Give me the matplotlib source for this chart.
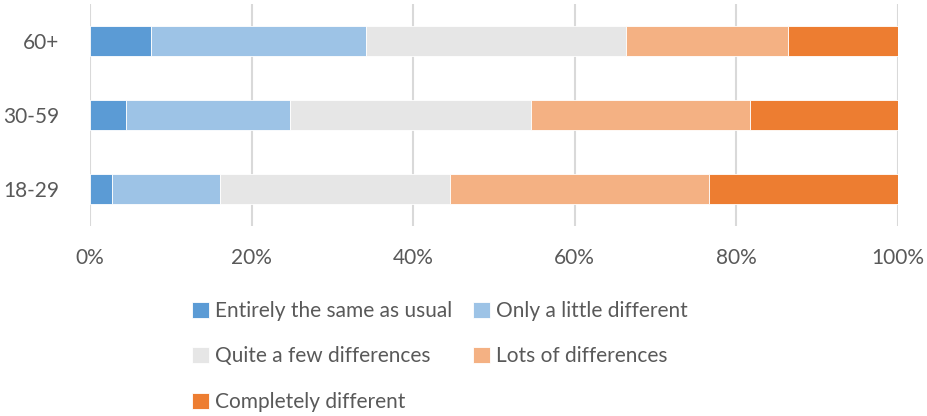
import numpy as np
import matplotlib
matplotlib.use("Agg")
import matplotlib.pyplot as plt
from matplotlib.ticker import PercentFormatter

# age groups, bottom to top
groups = ["18-29", "30-59", "60+"]

series_names = [
    "Entirely the same as usual",
    "Only a little different",
    "Quite a few differences",
    "Lots of differences",
    "Completely different",
]

# share of respondents (%) per age group
same = [2.7, 4.4, 7.5]
little = [13.4, 20.4, 26.6]
quite = [28.4, 29.8, 32.2]
lots = [32.1, 27.1, 20.1]
completely = [23.4, 18.3, 13.6]

colors = ["#5B9BD5", "#9DC3E6", "#E6E6E6", "#F4B183", "#ED7D31"]

plt.rcParams["font.family"] = ["Lato", "DejaVu Sans"]
text_color = "#595959"
fs = 15

fig = plt.figure(figsize=(9.28, 4.16), dpi=100)
ax = fig.add_axes([90 / 928, 1 - 226 / 416, 808 / 928, 222 / 416])

y = np.arange(len(groups))
left = np.zeros(len(groups))
bars = []
for name, vals, c in zip(series_names, [same, little, quite, lots, completely], colors):
    b = ax.barh(y, vals, left=left, height=0.405, color=c, label=name,
                edgecolor="white", linewidth=0.6, zorder=3)
    bars.append(b)
    left += np.array(vals)

ax.set_xlim(0, 100)
ax.set_ylim(-0.5, len(groups) - 0.5)
ax.set_yticks(y)
ax.set_yticklabels(groups)
ax.set_xticks(np.arange(0, 101, 20))
ax.xaxis.set_major_formatter(PercentFormatter(decimals=0))

ax.grid(axis="x", color="#D9D9D9", linewidth=1.5, zorder=0)
for s in ax.spines.values():
    s.set_visible(False)
ax.tick_params(axis="both", length=0, labelsize=fs, colors=text_color)
ax.tick_params(axis="y", pad=22)
ax.tick_params(axis="x", pad=16)

# legend fills column by column, so reorder to read row by row
order = [0, 2, 4, 1, 3]
fig.legend([bars[i] for i in order], [series_names[i] for i in order],
           loc="upper left", bbox_to_anchor=(192 / 928, 1 - 301 / 416), ncol=2,
           frameon=False, fontsize=fs, labelcolor=text_color,
           handlelength=0.8, handleheight=0.8, handletextpad=0.3,
           columnspacing=1.0, labelspacing=1.22, borderpad=0, borderaxespad=0)

fig.savefig("out.png", dpi=100, facecolor="white")
